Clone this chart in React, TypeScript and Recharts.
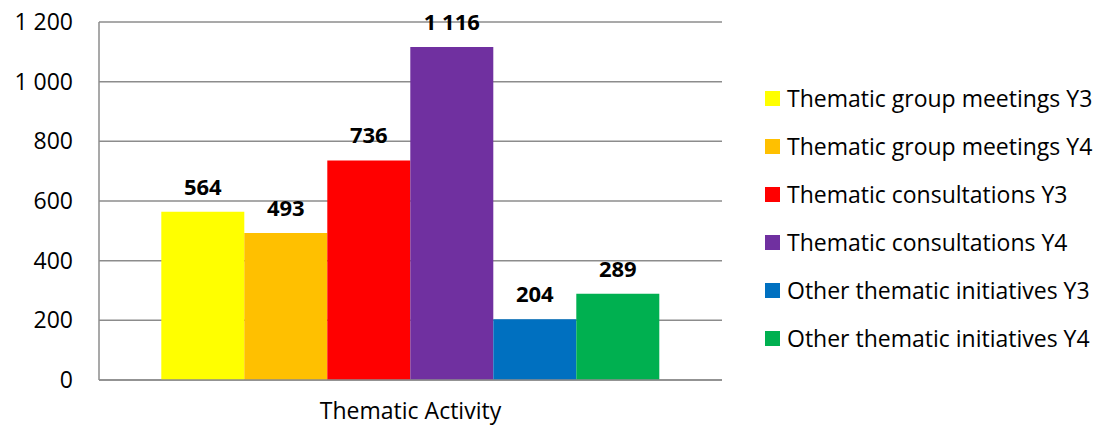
import React from 'react';
import { BarChart, Bar, XAxis, YAxis, CartesianGrid, LabelList } from 'recharts';

const categories = ['Thematic Activity'];
const seriesNames = [
  'Thematic group meetings Y3',
  'Thematic group meetings Y4',
  'Thematic consultations Y3',
  'Thematic consultations Y4',
  'Other thematic initiatives Y3',
  'Other thematic initiatives Y4',
];
const seriesValues = [564, 493, 736, 1116, 204, 289];
const seriesColors = ['#FFFF00', '#FFC000', '#FF0000', '#7030A0', '#0070C0', '#00B050'];
const yTicks = [0, 200, 400, 600, 800, 1000, 1200];

const data = categories.map((name) => {
  const row: Record<string, string | number> = { name };
  seriesNames.forEach((s, i) => {
    row['s' + i] = seriesValues[i];
  });
  return row;
});

const font = '"Open Sans", sans-serif';
const gridColor = '#8c8c8c';

// 1 200 style numbers
const fmt = (v: any) => String(v).replace(/\B(?=(\d{3})+(?!\d))/g, ' ');

export default function App() {
  return (
    <div style={{ position: 'absolute', left: 0, top: 0, width: 1099, height: 425, background: '#fff' }}>
      <BarChart
        width={1099}
        height={425}
        data={data}
        margin={{ top: 22, right: 377, bottom: 0, left: 0 }}
        barCategoryGap="10%"
        barGap={0}
      >
        <CartesianGrid vertical={false} stroke={gridColor} strokeWidth={1.5} />
        <XAxis
          dataKey="name"
          height={45}
          axisLine={{ stroke: gridColor, strokeWidth: 1.5 }}
          tickLine={false}
          tickSize={0}
          tickMargin={23}
          tick={{ fill: '#000', fontSize: 23, fontFamily: font }}
        />
        <YAxis
          width={99}
          domain={[0, 1200]}
          ticks={yTicks}
          tickFormatter={fmt}
          axisLine={{ stroke: gridColor, strokeWidth: 1.5 }}
          tickLine={false}
          tickSize={0}
          tickMargin={26}
          tick={{ fill: '#000', fontSize: 23, fontFamily: font }}
        />
        {seriesNames.map((s, i) => (
          <Bar key={s} dataKey={'s' + i} name={s} fill={seriesColors[i]} isAnimationActive={false}>
            <LabelList
              dataKey={'s' + i}
              position="top"
              offset={17}
              formatter={fmt}
              style={{ fill: '#000', fontSize: 22, fontWeight: 'bold', fontFamily: font }}
            />
          </Bar>
        ))}
      </BarChart>
      <div style={{ position: 'absolute', left: 765, top: 74, fontFamily: font }}>
        {seriesNames.map((s, i) => (
          <div key={s} style={{ display: 'flex', alignItems: 'center', height: 48 }}>
            <span style={{ width: 15, height: 15, background: seriesColors[i], marginRight: 7 }} />
            <span style={{ fontSize: 23, color: '#000', whiteSpace: 'nowrap' }}>{s}</span>
          </div>
        ))}
      </div>
    </div>
  );
}
